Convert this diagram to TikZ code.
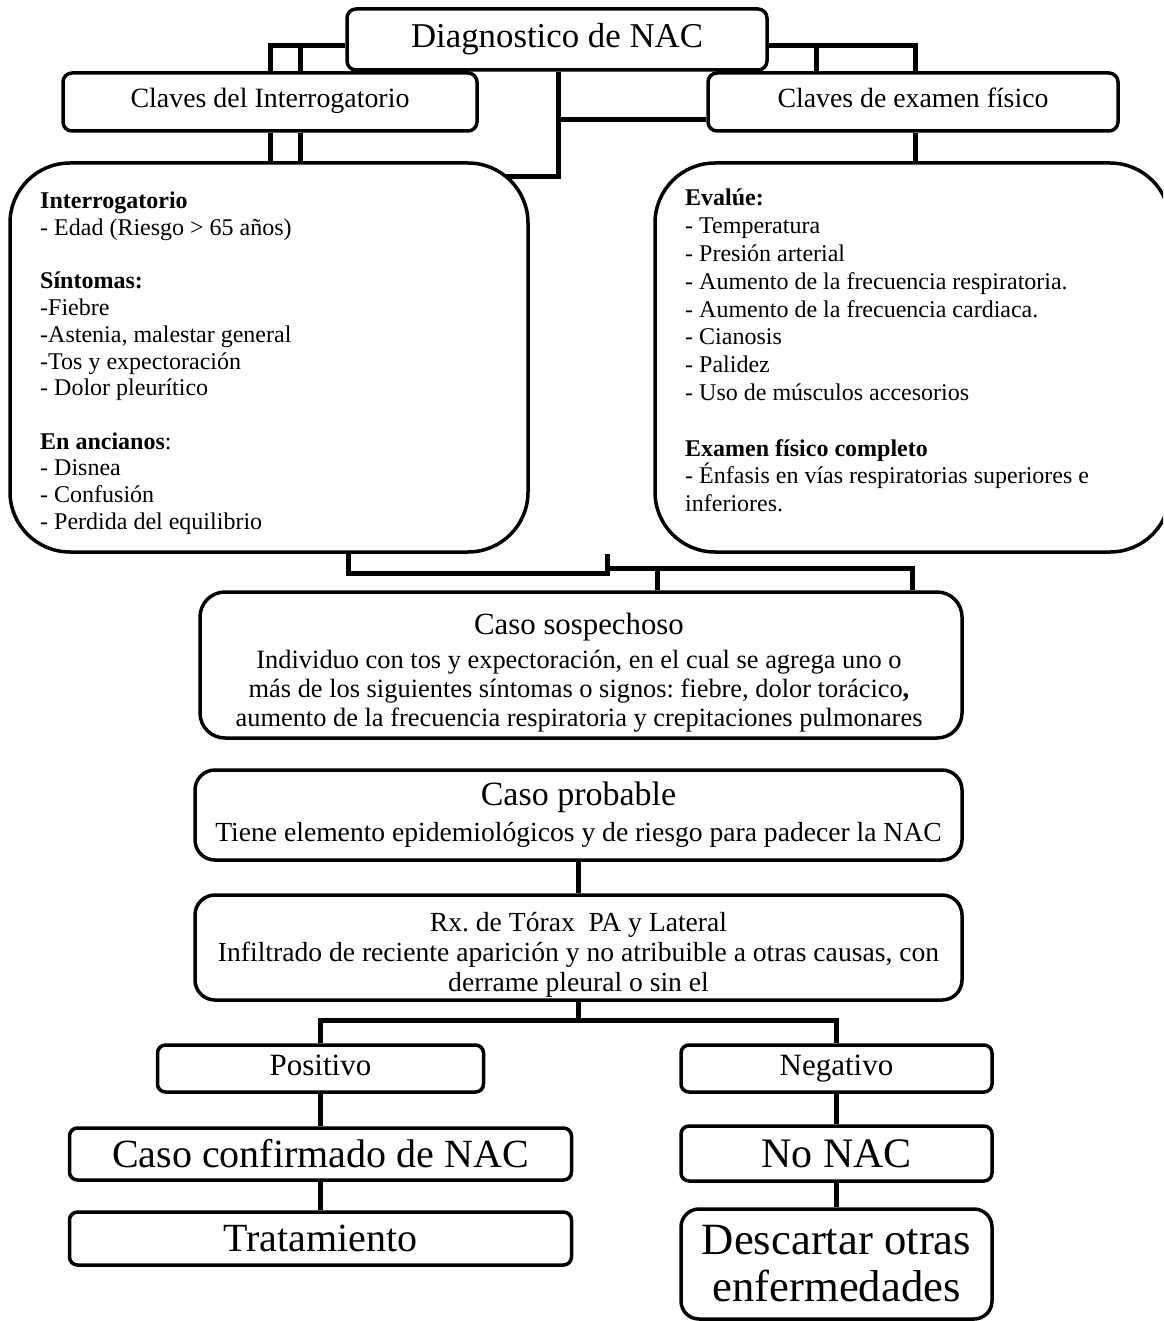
\documentclass[tikz,border=0pt]{standalone}
\usepackage{fontspec}
\setmainfont{Liberation Serif}
\newcommand\fsz[2]{\fontsize{#1}{#2}\selectfont}
\frenchspacing
\begin{document}
\begin{tikzpicture}[x=1pt,y=-1pt,
  box/.style={draw=black, line width=3.5pt, fill=white, inner sep=0pt, align=center},
  txt/.style={inner sep=0pt, align=center},
  link/.style={draw=black, line width=5pt, line join=miter}]
\useasboundingbox (0,0) rectangle (1163,1321);
\fill[white] (0,0) rectangle (1163,1321);
\clip (0,0) rectangle (1163,1321);

% ---- boxes ----
\node[box, rounded corners=9pt, minimum width=420, minimum height=61, font=\fsz{34.8}{40}] (dg) at (557,39.5) {Diagnostico de NAC};
\node[box, rounded corners=9pt, minimum width=414, minimum height=58, font=\fsz{27.9}{32}] (ci) at (270,102) {\raisebox{8pt}{Claves del Interrogatorio}};
\node[box, rounded corners=9pt, minimum width=410, minimum height=58, font=\fsz{27.8}{32}] (ce) at (913,102) {\raisebox{8pt}{Claves de examen físico}};

\node[box, rounded corners=60pt, minimum width=518, minimum height=389] (lb) at (269,357.5) {};
\node[box, rounded corners=60pt, minimum width=515, minimum height=389] (rb) at (912.5,357.5) {};

\node[anchor=north west, inner sep=0pt, align=left, font=\fsz{24}{26.7}] (lbt) at (40,192)
  {\textbf{Interrogatorio}\\- Edad (Riesgo > 65 años)\\[26.7pt]
   \textbf{Síntomas:}\\-Fiebre\\-Astenia, malestar general\\-Tos y expectoración\\- Dolor pleurítico\\[26.7pt]
   \textbf{En ancianos}:\\- Disnea\\- Confusión\\- Perdida del equilibrio};
\node[anchor=north west, inner sep=0pt, align=left, font=\fsz{24}{27.8}] (rbt) at (685,189)
  {\textbf{Evalúe:}\\- Temperatura\\- Presión arterial\\- Aumento de la frecuencia respiratoria.\\- Aumento de la frecuencia cardiaca.\\- Cianosis\\- Palidez\\- Uso de músculos accesorios\\[27.8pt]
   \textbf{Examen físico completo}\\- Énfasis en vías respiratorias superiores e\\inferiores.};

\node[box, rounded corners=25pt, minimum width=762, minimum height=146] (cs) at (581,665) {};
\node[txt, font=\fsz{26.4}{29}] (cst) at (579,672.5)
  {{\fsz{30.8}{34}Caso sospechoso}\\[5pt]
   Individuo con tos y expectoración, en el cual se agrega uno o\\
   más de los siguientes síntomas o signos: fiebre, dolor torácico\textbf{,}\\
   aumento de la frecuencia respiratoria y crepitaciones pulmonares};

\node[box, rounded corners=20pt, minimum width=767, minimum height=90, font=\fsz{27.6}{30}] (cp) at (578.5,815)
  {{\fsz{34}{38}Caso probable}\\[6pt]Tiene elemento epidemiológicos y de riesgo para padecer la NAC};
\node[box, rounded corners=20pt, minimum width=767, minimum height=105] (rx) at (578.5,947.5) {};
\node[txt, font=\fsz{27.6}{30}] (rxt) at (578.5,954.5)
  {Rx. de Tórax\ \ PA y Lateral\\Infiltrado de reciente aparición y no atribuible a otras causas, con\\derrame pleural o sin el};

\node[box, rounded corners=8pt, minimum width=326, minimum height=47, font=\fsz{31}{34}] (pos) at (320.5,1068.5) {\raisebox{-2pt}{Positivo\strut}};
\node[box, rounded corners=8pt, minimum width=311, minimum height=47, font=\fsz{31}{34}] (neg) at (836.5,1068.5) {\raisebox{-2pt}{Negativo\strut}};
\node[box, rounded corners=8pt, minimum width=502, minimum height=52, font=\fsz{40}{44}] (cc) at (320.5,1154) {Caso confirmado de NAC};
\node[box, rounded corners=8pt, minimum width=502, minimum height=53, font=\fsz{40}{44}] (tr) at (320.5,1238.5) {Tratamiento};
\node[box, rounded corners=8pt, minimum width=311, minimum height=55, font=\fsz{42}{46}] (nn) at (836.5,1153.5) {No NAC};
\node[box, rounded corners=18pt, minimum width=311, minimum height=110, font=\fsz{44.7}{47}] (de) at (836.5,1264) {Descartar otras\\enfermedades};

% ---- junction points ----
\coordinate (ja) at (270,46);
\coordinate (jb) at (300,46);
\coordinate (jc) at (816,46);
\coordinate (jd) at (915,46);
\coordinate (je) at (558,177);
\coordinate (jf) at (506,177);
\coordinate (jg) at (558,120);
\coordinate (k1) at (348,573);
\coordinate (k2) at (607,573);
\coordinate (k3) at (607,568);
\coordinate (k4) at (657,568);
\coordinate (k5) at (912,568);
\coordinate (m) at (578.5,1020);

% ---- connectors ----
\draw[link] (dg.west |- ja) -- (ja) -- (ja |- ci.north);
\draw[link] (jb) -- (jb |- ci.north);
\draw[link] (ja |- ci.south) -- (ja |- lb.north);
\draw[link] (jb |- ci.south) -- (jb |- lb.north);

\draw[link] (dg.east |- jc) -- (jd) -- (jd |- ce.north);
\draw[link] (jc) -- (jc |- ce.north);
\draw[link] (jd |- ce.south) -- (jd |- rb.north);

\draw[link] (je |- dg.south) -- (je) -- (jf);
\draw[link] (jg) -- (jg -| ce.west);

\draw[link] (k1 |- lb.south) -- (k1) -- (k2) -- (k2 |- lb.south);
\draw[link] (k3) -- (k5) -- (k5 |- cs.north);
\draw[link] (k4) -- (k4 |- cs.north);

\draw[link] (cp.south) -- (rx.north);
\draw[link] (rx.south) -- (m);
\draw[link] (pos.north) |- (m) -| (neg.north);
\draw[link] (pos.south) -- (cc.north);
\draw[link] (cc.south) -- (tr.north);
\draw[link] (neg.south) -- (nn.north);
\draw[link] (nn.south) -- (de.north);
\end{tikzpicture}
\end{document}
